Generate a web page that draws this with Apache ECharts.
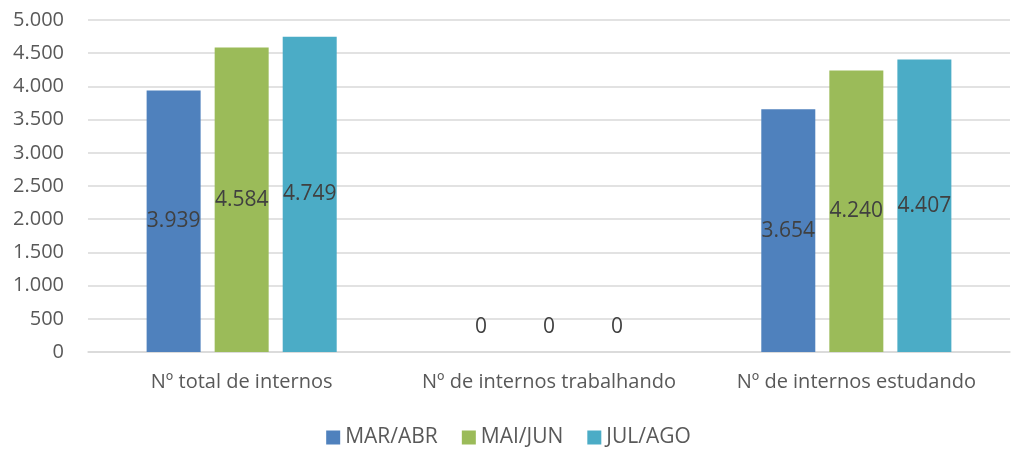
<!DOCTYPE html>
<html>
<head>
<meta charset="utf-8">
<script src="https://cdn.jsdelivr.net/npm/echarts@6/dist/echarts.min.js"></script>
<style>
  html, body { margin: 0; padding: 0; background: #fff; }
  #chart { width: 1017px; height: 462px; }
</style>
</head>
<body>
<div id="chart"></div>
<script>
let categories = ['Nº total de internos', 'Nº de internos trabalhando', 'Nº de internos estudando']
let seriesNames = ['MAR/ABR', 'MAI/JUN', 'JUL/AGO']
let marAbr = [3939, 0, 3654]
let maiJun = [4584, 0, 4240]
let julAgo = [4749, 0, 4407]
let colors = ['#4F81BD', '#9BBB59', '#4BACC6']

let fmt = function(v){
  return String(v).replace(/\B(?=(\d{3})+(?!\d))/g, '.')
}

let dom = document.getElementById('chart')
let myChart = echarts.init(dom)

let makeSeries = function(name, values, color){
  return {
    name: name,
    type: 'bar',
    barWidth: 54,
    barGap: '26%',
    itemStyle: { color: color },
    label: {
      show: true,
      position: 'inside',
      color: '#404040',
      fontSize: 21,
      fontFamily: 'Open Sans',
      formatter: function(p){ return fmt(p.value) }
    },
    data: values.map(function(v){
      if (v === 0) {
        return { value: v, label: { position: 'top', distance: 14 } }
      }
      return v
    })
  }
}

let option = {
  animation: false,
  textStyle: { fontFamily: 'Open Sans' },
  grid: { left: 88, right: 7, top: 20, bottom: 110 },
  legend: {
    bottom: 9,
    left: 'center',
    icon: 'rect',
    itemWidth: 14,
    itemHeight: 14,
    itemGap: 24,
    textStyle: { color: '#595959', fontSize: 21, fontFamily: 'Open Sans' },
    data: seriesNames
  },
  xAxis: {
    type: 'category',
    data: categories,
    axisLine: { lineStyle: { color: '#d9d9d9', width: 1.5 } },
    axisTick: { show: false },
    axisLabel: { color: '#595959', fontSize: 20, margin: 20, interval: 0, hideOverlap: false }
  },
  yAxis: {
    type: 'value',
    min: 0,
    max: 5000,
    interval: 500,
    axisLine: { show: false },
    axisTick: { show: false },
    splitLine: { lineStyle: { color: '#d9d9d9', width: 1.5 } },
    axisLabel: { color: '#595959', fontSize: 20, margin: 24, formatter: fmt }
  },
  series: [
    makeSeries(seriesNames[0], marAbr, colors[0]),
    makeSeries(seriesNames[1], maiJun, colors[1]),
    makeSeries(seriesNames[2], julAgo, colors[2])
  ]
}

myChart.setOption(option, true)

window.addEventListener('resize', function(){
  myChart.resize()
})
</script>
</body>
</html>
